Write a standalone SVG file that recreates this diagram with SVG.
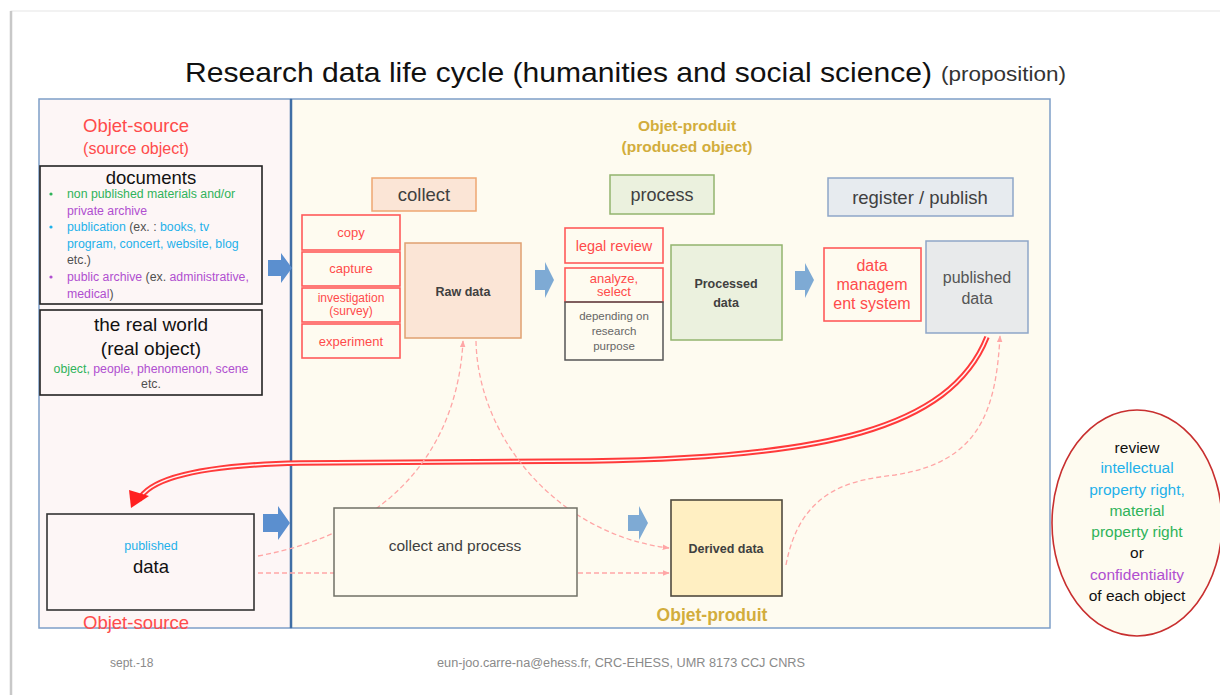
<svg xmlns="http://www.w3.org/2000/svg" width="1220" height="695" viewBox="0 0 1220 695">
<defs>
<style>
text{font-family:"Liberation Sans",Arial,sans-serif}
.red{fill:#ff4b4b}
.grn{fill:#2fb35a}
.pur{fill:#b04fd0}
.cyn{fill:#1fb1ea}
.gry{fill:#505050}
.gold{fill:#d2ad3c;font-weight:bold}
.rbox{fill:none;stroke:#ff5a5a;stroke-width:1.6}
.dash{fill:none;stroke:#ffa6a6;stroke-width:1.3;stroke-dasharray:5 3}
.barrow{fill:#5b8fcf}
.larrow{fill:#7eaad4}
</style>
<marker id="ah" viewBox="0 0 10 10" refX="9" refY="5" markerWidth="7" markerHeight="7" orient="auto" markerUnits="userSpaceOnUse">
<path d="M0,1 L10,5 L0,9 z" fill="#ffa6a6"/>
</marker>
</defs>
<rect width="1220" height="695" fill="#ffffff"/>
<rect x="11" y="11" width="1215" height="690" fill="#ffffff" stroke="#e6e6e6" stroke-width="1"/>
<line x1="11" y1="11" x2="11" y2="695" stroke="#c8c8c8" stroke-width="2.5"/>

<text x="185" y="82" font-size="28" fill="#111" textLength="747" lengthAdjust="spacingAndGlyphs">Research data life cycle (humanities and social science)</text>
<text x="941" y="81" font-size="20" fill="#333" textLength="125" lengthAdjust="spacingAndGlyphs">(proposition)</text>

<g id="panel-source">
<rect x="39" y="99" width="252" height="529" fill="#fdf6f6" stroke="#7d9ec8" stroke-width="1.5"/>
</g>
<g id="panel-product">
<rect x="291" y="99" width="759" height="529" fill="#fefbf0" stroke="#7d9ec8" stroke-width="1.5"/>
<line x1="291" y1="99" x2="291" y2="628" stroke="#3f6ea5" stroke-width="2.5"/>
</g>

<text x="136" y="132" font-size="18.5" class="red" text-anchor="middle">Objet-source</text>
<text x="136" y="154" font-size="16" class="red" text-anchor="middle">(source object)</text>

<text x="687" y="131" font-size="15.5" class="gold" text-anchor="middle">Objet-produit</text>
<text x="687" y="152" font-size="15.5" class="gold" text-anchor="middle">(produced object)</text>

<g id="connectors">
<path d="M987 337 C 950 430, 820 458, 590 461 L 300 463 C 200 465, 150 478, 139 500" fill="none" stroke="#ff3a3a" stroke-width="5.5"/>
<path d="M987 337 C 950 430, 820 458, 590 461 L 300 463 C 200 465, 150 478, 139 500" fill="none" stroke="#fff4f4" stroke-width="1.6"/>
<path d="M131 508 L 129 490 L 149 496 z" fill="#ff2020"/>
<path class="dash" d="M258 556 C 400 530, 458 440, 463 341" marker-end="url(#ah)"/>
<path class="dash" d="M476 341 C 478 440, 560 535, 669 548" marker-end="url(#ah)"/>
<path class="dash" d="M258 573 L 669 573" marker-end="url(#ah)"/>
<path class="dash" d="M786 565 C 800 490, 850 480, 895 475 C 980 462, 996 410, 1000 336" marker-end="url(#ah)"/>
<path class="barrow" d="M268 260 H281 V253 L292 268 L281 283 V276 H268 z"/>
<path class="barrow" d="M263 514 H278 V506 L290 523 L278 540 V532 H263 z"/>
<path class="larrow" d="M535 270 H545 V262 L554 280 L545 298 V290 H535 z"/>
<path class="larrow" d="M795 271 H805 V263 L814 280 L805 298 V290 H795 z"/>
<path class="larrow" d="M628 515 H639 V506 L648 523 L639 540 V531 H628 z"/>
</g>

<g id="documents">
<rect x="40" y="166" width="222" height="138" fill="none" stroke="#222" stroke-width="1.6"/>
<text x="151" y="184" font-size="18.5" text-anchor="middle" fill="#111">documents</text>
<g font-size="12.3">
<circle cx="51" cy="194" r="1.6" fill="#2fb35a"/>
<text x="67" y="198" class="grn">non published materials and/or</text>
<text x="67" y="215" class="pur">private archive</text>
<circle cx="51" cy="227" r="1.6" fill="#1fb1ea"/>
<text x="67" y="231"><tspan class="cyn">publication</tspan><tspan class="gry"> (ex. : </tspan><tspan class="cyn">books, tv</tspan></text>
<text x="67" y="248" class="cyn">program, concert, website, blog</text>
<text x="67" y="264" class="gry">etc.)</text>
<circle cx="51" cy="277" r="1.6" fill="#b04fd0"/>
<text x="67" y="281"><tspan class="pur">public archive</tspan><tspan class="gry"> (ex. </tspan><tspan class="pur">administrative,</tspan></text>
<text x="67" y="298"><tspan class="pur">medical</tspan><tspan class="gry">)</tspan></text>
</g>
</g>

<g id="real-world">
<rect x="40" y="310" width="222" height="85" fill="none" stroke="#222" stroke-width="1.6"/>
<text x="151" y="331" font-size="19" text-anchor="middle" fill="#111">the real world</text>
<text x="151" y="355" font-size="19" text-anchor="middle" fill="#111">(real object)</text>
<text x="151" y="373" font-size="12.3" text-anchor="middle"><tspan class="grn">object, </tspan><tspan class="pur">people, phenomenon, scene</tspan></text>
<text x="151" y="388" font-size="12.3" text-anchor="middle" class="gry">etc.</text>
</g>

<g id="collect">
<rect x="372" y="178" width="104" height="33" fill="#fbe5d6" stroke="#eea672" stroke-width="1.5"/>
<text x="424" y="201" font-size="18.5" text-anchor="middle" fill="#404040">collect</text>
</g>
<g id="copy"><rect class="rbox" x="302" y="215" width="98" height="35"/><text x="351" y="237" font-size="13" text-anchor="middle" class="red">copy</text></g>
<g id="capture"><rect class="rbox" x="302" y="252" width="98" height="34"/><text x="351" y="273" font-size="13" text-anchor="middle" class="red">capture</text></g>
<g id="investigation"><rect class="rbox" x="302" y="288" width="98" height="34"/><text x="351" y="302" font-size="12" text-anchor="middle" class="red">investigation</text><text x="351" y="315" font-size="12" text-anchor="middle" class="red">(survey)</text></g>
<g id="experiment"><rect class="rbox" x="302" y="324" width="98" height="34"/><text x="351" y="346" font-size="13" text-anchor="middle" class="red">experiment</text></g>
<g id="raw-data">
<rect x="405" y="243" width="116" height="95" fill="#fbe5d6" stroke="#e0a070" stroke-width="1.5"/>
<text x="463" y="296" font-size="12.5" font-weight="bold" text-anchor="middle" fill="#404040">Raw data</text>
</g>

<g id="process">
<rect x="610" y="175" width="104" height="39" fill="#ebf1de" stroke="#93b46e" stroke-width="1.5"/>
<text x="662" y="201" font-size="18" text-anchor="middle" fill="#404040">process</text>
</g>
<g id="legal-review"><rect class="rbox" x="565" y="228" width="98" height="35"/><text x="614" y="251" font-size="14.5" text-anchor="middle" class="red">legal review</text></g>
<g id="analyze"><rect class="rbox" x="565" y="268" width="98" height="34"/><text x="614" y="283" font-size="13" text-anchor="middle" class="red">analyze,</text><text x="614" y="296" font-size="13" text-anchor="middle" class="red">select</text></g>
<g id="depending">
<rect x="565" y="302" width="98" height="58" fill="none" stroke="#555" stroke-width="1.5"/>
<text x="614" y="320" font-size="11.5" text-anchor="middle" fill="#666">depending on</text>
<text x="614" y="335" font-size="11.5" text-anchor="middle" fill="#666">research</text>
<text x="614" y="350" font-size="11.5" text-anchor="middle" fill="#666">purpose</text>
</g>
<g id="processed-data">
<rect x="671" y="245" width="111" height="95" fill="#ebf1de" stroke="#93b46e" stroke-width="1.5"/>
<text x="726" y="288" font-size="12.5" font-weight="bold" text-anchor="middle" fill="#404040">Processed</text>
<text x="726" y="307" font-size="12.5" font-weight="bold" text-anchor="middle" fill="#404040">data</text>
</g>

<g id="register">
<rect x="828" y="178" width="185" height="38" fill="#e7ebef" stroke="#8ea6c8" stroke-width="1.5"/>
<text x="920" y="204" font-size="18.5" text-anchor="middle" fill="#404040">register / publish</text>
</g>
<g id="dms">
<rect class="rbox" x="824" y="248" width="97" height="73"/>
<text x="872" y="271" font-size="16" text-anchor="middle" class="red">data</text>
<text x="872" y="290" font-size="16" text-anchor="middle" class="red">managem</text>
<text x="872" y="309" font-size="16" text-anchor="middle" class="red">ent system</text>
</g>
<g id="published-data">
<rect x="926" y="241" width="102" height="92" fill="#e8eaeb" stroke="#8ea6c8" stroke-width="1.5"/>
<text x="977" y="283" font-size="16" text-anchor="middle" fill="#555">published</text>
<text x="977" y="304" font-size="16" text-anchor="middle" fill="#555">data</text>
</g>

<g id="published-data-source">
<rect x="47" y="514" width="207" height="96" fill="#fdf6f6" stroke="#333" stroke-width="1.6"/>
<text x="151" y="550" font-size="12.5" text-anchor="middle" class="cyn">published</text>
<text x="151" y="573" font-size="18.5" text-anchor="middle" fill="#111">data</text>
</g>
<g id="collect-and-process">
<rect x="334" y="508" width="243" height="88" fill="#fefbf0" stroke="#707066" stroke-width="1.5"/>
<text x="455" y="551" font-size="15.5" text-anchor="middle" fill="#404040">collect and process</text>
</g>
<g id="derived-data">
<rect x="671" y="500" width="111" height="96" fill="#ffefc2" stroke="#504a3e" stroke-width="1.6"/>
<text x="726" y="553" font-size="12.5" font-weight="bold" text-anchor="middle" fill="#404040">Derived data</text>
</g>

<text x="136" y="629" font-size="18.5" text-anchor="middle" class="red">Objet-source</text>
<text x="712" y="621" font-size="17.5" text-anchor="middle" class="gold">Objet-produit</text>

<g id="review">
<ellipse cx="1137" cy="523" rx="85" ry="113" fill="#fefbf0" stroke="#c82f2f" stroke-width="1.6"/>
<g font-size="15.5" text-anchor="middle">
<text x="1137" y="453" fill="#111">review</text>
<text x="1137" y="473" class="cyn">intellectual</text>
<text x="1137" y="495" class="cyn">property right,</text>
<text x="1137" y="516" class="grn">material</text>
<text x="1137" y="537" class="grn">property right</text>
<text x="1137" y="558" fill="#111">or</text>
<text x="1137" y="580" class="pur">confidentiality</text>
<text x="1137" y="601" fill="#111">of each object</text>
</g>
</g>

<text x="110" y="667" font-size="12" fill="#8a8a8a">sept.-18</text>
<text x="437" y="667" font-size="12" fill="#8a8a8a" textLength="368" lengthAdjust="spacingAndGlyphs">eun-joo.carre-na@ehess.fr, CRC-EHESS, UMR 8173 CCJ CNRS</text>
</svg>
